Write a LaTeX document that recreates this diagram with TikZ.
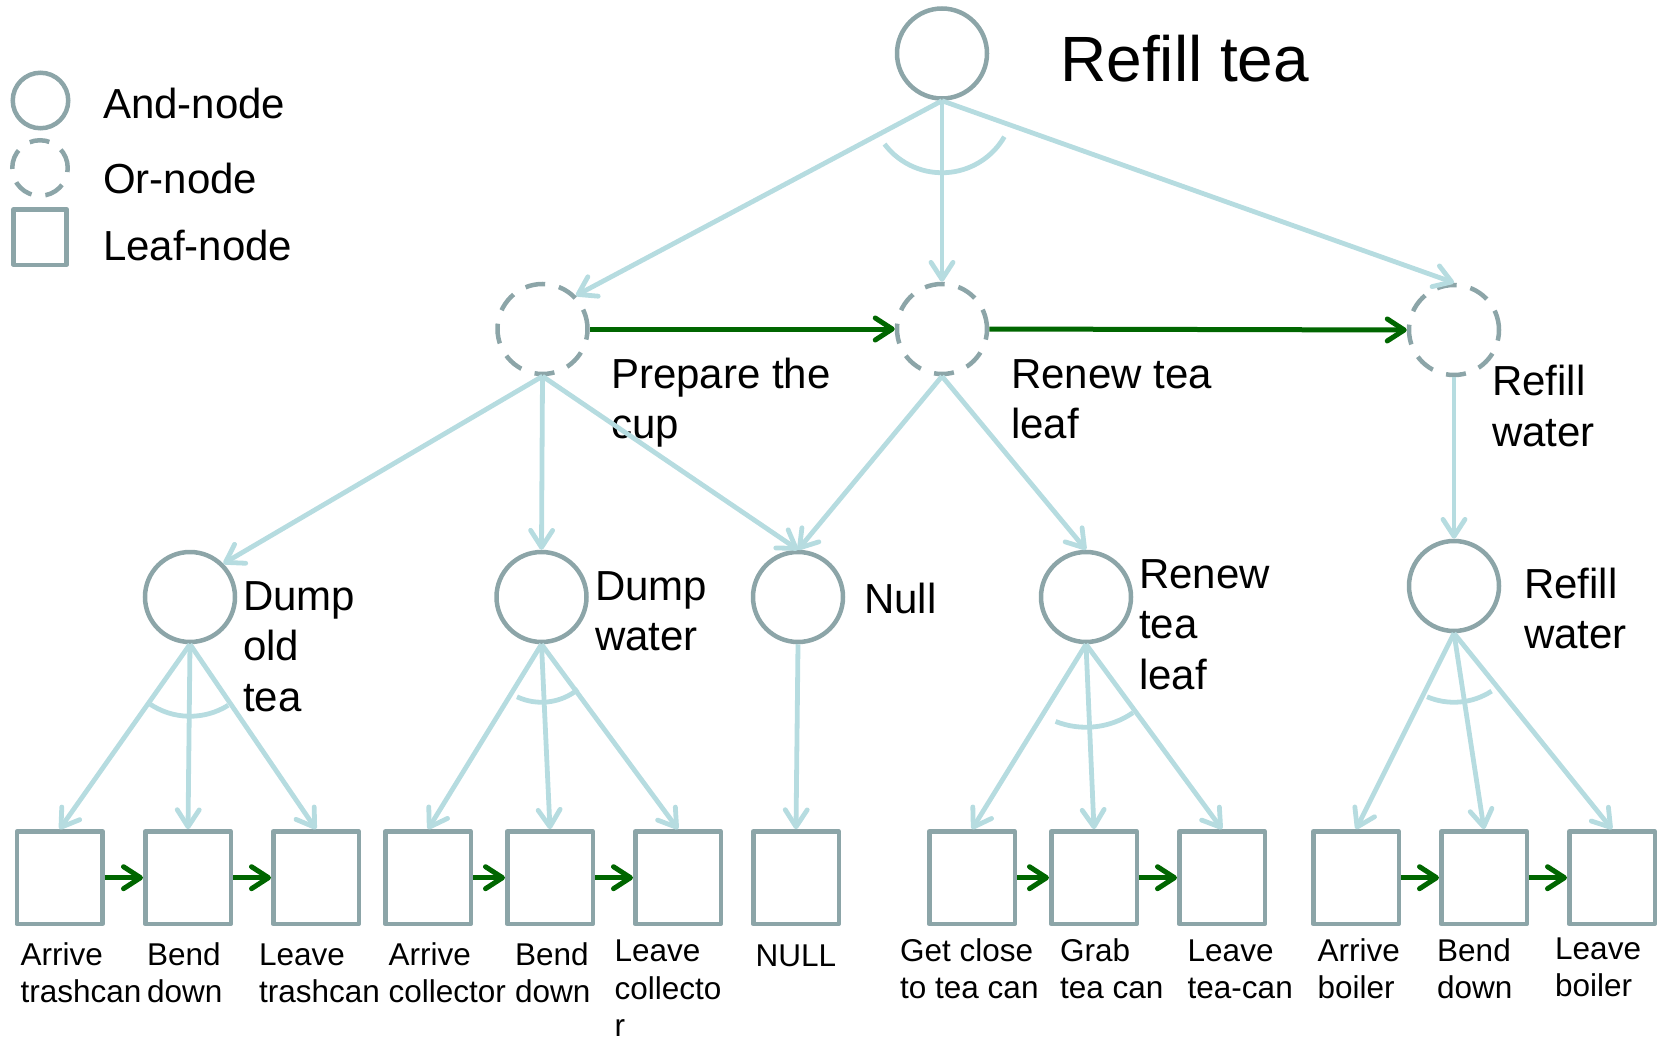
\documentclass[tikz,border=0pt]{standalone}
\usepackage{fontspec}
\setmainfont{Liberation Sans}
\usetikzlibrary{arrows.meta}
\definecolor{edgeblue}{RGB}{182,220,224}
\definecolor{nodegray}{RGB}{140,165,168}
\definecolor{seqgreen}{RGB}{0,102,0}
\newcommand{\labellines}[1]{\begin{tabular}[t]{@{}l@{}}#1\end{tabular}}
\begin{document}
\begin{tikzpicture}[x=1pt,y=-1pt,
  shapeline/.style={draw=nodegray, line width=4.5pt},
  andnode/.style={shapeline, circle, minimum size=90pt, inner sep=0pt},
  ornode/.style={andnode, dash pattern=on 20pt off 14pt},
  leafnode/.style={shapeline, rectangle, minimum width=85.5pt, minimum height=92.5pt, inner sep=0pt, line join=round},
  tip/.style={-{Straight Barb[length=17pt,width=22pt,round]}},
  treelink/.style={draw=edgeblue, line width=4.8pt, tip},
  arcline/.style={draw=edgeblue, line width=4.8pt},
  seqlink/.style={draw=seqgreen, line width=5pt, tip},
  biglabel/.style={anchor=base west, inner sep=0pt, font=\fontsize{42}{50.5}\selectfont},
  leaflabel/.style={anchor=base west, inner sep=0pt, font=\fontsize{31.5}{37.3}\selectfont},
]
\useasboundingbox (0,0) rectangle (1658,1038);

% legend
\node[andnode, minimum size=55.5pt] (legand) at (40.5,100.5) {};
\node[ornode, minimum size=55.5pt] (legor) at (40,168) {};
\node[leafnode, minimum width=53pt, minimum height=55.5pt] (legleaf) at (40.2,237) {};
\node[biglabel] (legandtext) at (103,118.5) {And-node};
\node[biglabel] (legortext) at (103,193.5) {Or-node};
\node[biglabel] (legleaftext) at (103,260.5) {Leaf-node};

% root and its label
\node[andnode] (root) at (942,53.5) {};
\node[anchor=base west, inner sep=0pt, font=\fontsize{64}{70}\selectfont] (roottext) at (1060,81.7) {Refill tea};

% or-nodes
\node[ornode] (cup) at (542.5,329) {};
\node[ornode] (leaf) at (942,329) {};
\node[ornode] (water) at (1454,330) {};
\node[biglabel] (cuptext) at (611,388.3) {\labellines{Prepare the\\cup}};
\node[biglabel] (leaftext) at (1011,388.3) {\labellines{Renew tea\\leaf}};
\node[biglabel] (watertext) at (1492,395.5) {\labellines{Refill\\water}};

% and-nodes
\node[andnode] (dumpold) at (190,597) {};
\node[andnode] (dumpwater) at (541.5,597) {};
\node[andnode] (nulltask) at (798,597) {};
\node[andnode] (renew) at (1086,597) {};
\node[andnode] (refill) at (1454,586) {};
\node[biglabel] (dumpoldtext) at (243,610) {\labellines{Dump\\old\\tea}};
\node[biglabel] (dumpwatertext) at (595,600) {\labellines{Dump\\water}};
\node[biglabel] (nulltext) at (864,613) {Null};
\node[biglabel] (renewtext) at (1139,588) {\labellines{Renew\\tea\\leaf}};
\node[biglabel] (refilltext) at (1524,598) {\labellines{Refill\\water}};

% leaf nodes
\foreach \name/\x in {b1/59.6, b2/188, b3/316, b4/428, b5/550, b6/678, b7/796,
                      b8/972, b9/1094, b10/1222, b11/1356, b12/1484, b13/1612}
  \node[leafnode] (\name) at (\x,877.7) {};

\node[leaflabel] (t1) at (20.5,965) {\labellines{Arrive\\trashcan}};
\node[leaflabel] (t2) at (147,965) {\labellines{Bend\\down}};
\node[leaflabel] (t3) at (259,965) {\labellines{Leave\\trashcan}};
\node[leaflabel] (t4) at (388.5,965) {\labellines{Arrive\\collector}};
\node[leaflabel] (t5) at (515,965) {\labellines{Bend\\down}};
\node[leaflabel] (t6) at (614.5,961.7) {\labellines{Leave\\collecto\\r}};
\node[leaflabel] (t7) at (755.5,966) {NULL};
\node[leaflabel] (t8) at (900,961) {\labellines{Get close\\to tea can}};
\node[leaflabel] (t9) at (1060,961) {\labellines{Grab\\tea can}};
\node[leaflabel] (t10) at (1187.5,961) {\labellines{Leave\\tea-can}};
\node[leaflabel] (t11) at (1317.5,961) {\labellines{Arrive\\boiler}};
\node[leaflabel] (t12) at (1437,961) {\labellines{Bend\\down}};
\node[leaflabel] (t13) at (1555,959.5) {\labellines{Leave\\boiler}};

% decomposition links
\draw[treelink] (root.south) -- (cup.north east);
\draw[treelink] (root.south) -- (leaf.north);
\draw[treelink] (root.south) -- (water.north);
\draw[treelink] (cup.south) -- (dumpold.north east);
\draw[treelink] (cup.south) -- (dumpwater.north);
\draw[treelink] (cup.south) -- (nulltask.north);
\draw[treelink] (leaf.south) -- (nulltask.north);
\draw[treelink] (leaf.south) -- (renew.north);
\draw[treelink] (water.south) -- (refill.north);
\foreach \p/\c in {dumpold/b1, dumpold/b2, dumpold/b3,
                   dumpwater/b4, dumpwater/b5, dumpwater/b6,
                   nulltask/b7,
                   renew/b8, renew/b9, renew/b10,
                   refill/b11, refill/b12, refill/b13}
  \draw[treelink] (\p.south) -- (\c.north);

% and-arcs
\draw[arcline] ([shift={(143:72)}]root.south) arc[start angle=143, end angle=30, radius=72];
\draw[arcline] ([shift={(125:72)}]dumpold.south) arc[start angle=125, end angle=58, radius=72];
\draw[arcline] ([shift={(115:58)}]dumpwater.south) arc[start angle=115, end angle=51, radius=58];
\draw[arcline] ([shift={(111.5:83)}]renew.south) arc[start angle=111.5, end angle=55.5, radius=83];
\draw[arcline] ([shift={(113:69)}]refill.south) arc[start angle=113, end angle=57, radius=69];

% temporal order
\draw[seqlink] (cup.east) -- (leaf.west);
\draw[seqlink] (leaf.east) -- (water.west);
\foreach \a/\b in {b1/b2, b2/b3, b4/b5, b5/b6, b8/b9, b9/b10, b11/b12, b12/b13}
  \draw[seqlink] (\a.east) -- (\b.west);
\end{tikzpicture}
\end{document}
